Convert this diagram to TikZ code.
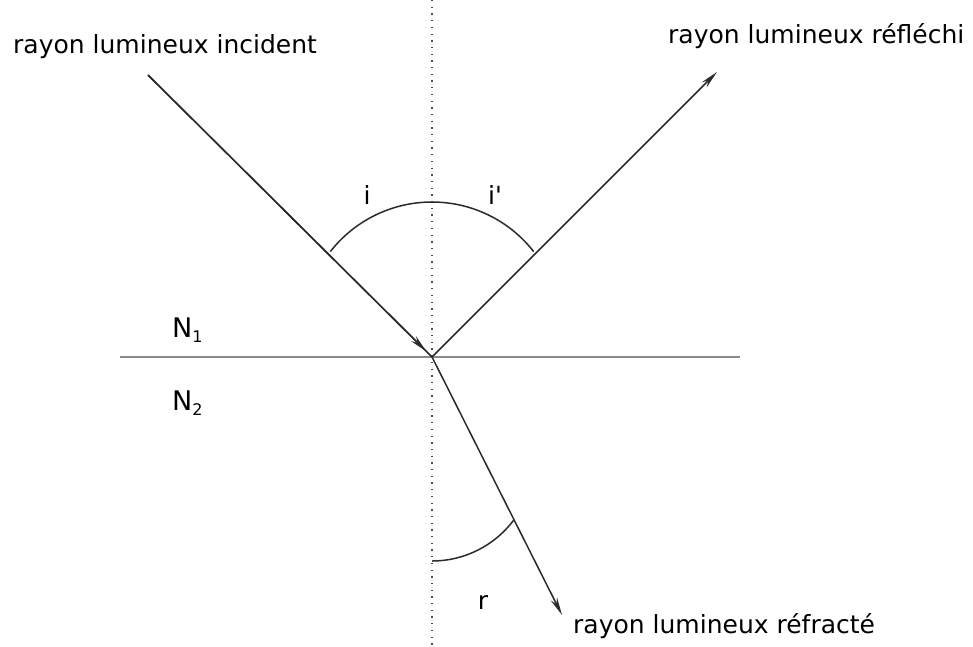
\documentclass[tikz,border=0pt]{standalone}
\usepackage{fontspec}
\setmainfont{DejaVu Sans}
\usepackage{xcolor}
\definecolor{cRay}{HTML}{2B2B2B}
\definecolor{cSurf}{HTML}{8A8A8A}
\definecolor{cNorm}{HTML}{4A4A4A}
\usetikzlibrary{arrows.meta,calc}
\tikzset{
  ray/.style={draw=cRay,line width=1.5pt},
  ray-arrow/.style={ray,-{Stealth[length=18pt,width=7pt]}},
  surface/.style={draw=cSurf,line width=2.8pt},
  normal-line/.style={draw=cNorm,line width=1.3pt,dash pattern=on 1.3pt off 5.4pt},
  angle-arc/.style={draw=cRay,line width=1.5pt},
  lbl/.style={font=\fontsize{25}{30}\selectfont,inner sep=0pt},
  lbl-medium/.style={font=\fontsize{27}{32}\selectfont,inner sep=0pt},
}
\newcommand{\idx}[1]{\raisebox{-5pt}{\fontsize{16}{19}\selectfont #1}}

\begin{document}
\begin{tikzpicture}[x=1pt,y=-1pt]
  \useasboundingbox (0,0) rectangle (973,646);
  % point d'incidence, normale et dioptre
  \coordinate (O)    at (432,357);
  \coordinate (nTop) at (432,0);
  \coordinate (nBot) at (432,646);
  \coordinate (sL)   at (120,357);
  \coordinate (sR)   at (740,357);
  \draw[normal-line] (nTop) -- (nBot);
  \draw[surface] (sL) -- (sR);
  % les trois rayons
  \coordinate (inc)  at (148,75);
  \coordinate (refl) at (717,72);
  \coordinate (refr) at (562,615);
  \draw[ray] (inc) -- (O);
  \draw[ray-arrow,shorten >=8pt] (inc) -- (O);
  \draw[ray-arrow] (O) -- (refl);
  \draw[ray-arrow] (O) -- (refr);
  % arcs des angles
  \coordinate (cI) at (432,331);
  \draw[angle-arc] ($(cI)+(142:129pt)$) arc[start angle=142,end angle=38,radius=129pt];
  \coordinate (cR) at (432,459);
  \draw[angle-arc] ($(cR)+(-90:102pt)$) arc[start angle=-90,end angle=-37,radius=102pt];
  % textes
  \node[lbl,anchor=base west] (tInc)  at (13,53)   {rayon lumineux incident};
  \node[lbl,anchor=base west] (tRefl) at (668,43)  {rayon lumineux réfléchi};
  \node[lbl,anchor=base west] (tRefr) at (573,633) {rayon lumineux réfracté};
  \node[lbl] (lI)  at (367,195) {i};
  \node[lbl] (lIp) at (495,195) {i\textquotesingle};
  \node[lbl] (lR)  at (483,602) {r};
  \node[lbl-medium,anchor=base west] (n1) at (172,337) {N\idx{1}};
  \node[lbl-medium,anchor=base west] (n2) at (172,410) {N\idx{2}};
\end{tikzpicture}
\end{document}
